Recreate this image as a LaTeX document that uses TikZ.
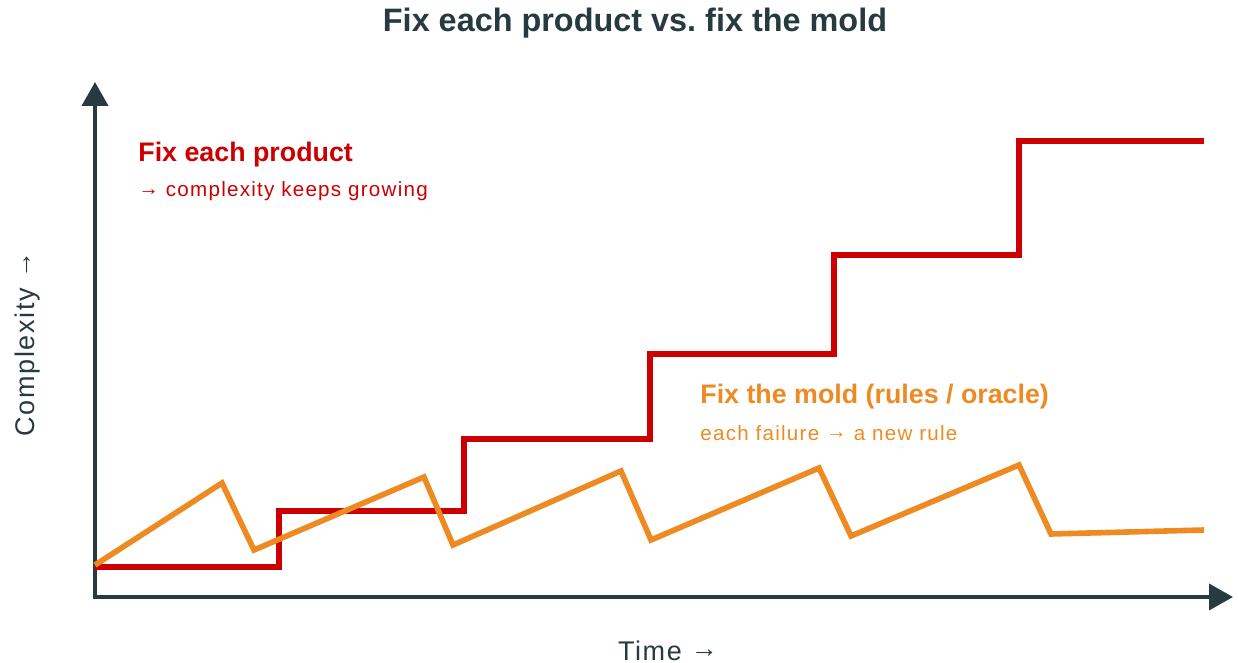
\documentclass[tikz,border=0pt]{standalone}
\usepackage{fontspec}
\setmainfont{Liberation Sans}
\usetikzlibrary{arrows.meta}
\frenchspacing
\definecolor{axisdark}{HTML}{263A40}
\definecolor{fixred}{HTML}{CC0000}
\definecolor{moldorange}{HTML}{EE8A22}
\newcommand{\rarr}{\raisebox{0.15ex}{→}}
\tikzset{
  axisline/.style={draw=axisdark, line width=2pt, -{Triangle[length=12pt,width=13pt]}},
  redline/.style={draw=fixred, line width=3pt, line join=miter},
  orangeline/.style={draw=moldorange, line width=2.8pt, line join=miter},
  headlabel/.style={font=\bfseries\fontsize{13.4pt}{16pt}\selectfont, anchor=base west, inner sep=0pt},
  sublabel/.style={font=\addfontfeatures{LetterSpace=6}\fontsize{10.3pt}{12pt}\selectfont, anchor=base west, inner sep=0pt},
  axislabel/.style={font=\addfontfeatures{LetterSpace=6}\fontsize{13.5pt}{16pt}\selectfont, text=axisdark, inner sep=0pt}
}
\begin{document}
\begin{tikzpicture}[x=0.5pt, y=-0.5pt]
\useasboundingbox (0,0) rectangle (1238,663);

% title
\node[font=\bfseries\fontsize{16.2pt}{19pt}\selectfont, text=axisdark, anchor=base, inner sep=0pt] (title) at (635,32) {Fix each product vs. fix the mold};

% axes
\coordinate (origin) at (95,597);
\coordinate (ytip) at (95,82);
\coordinate (xtip) at (1233,597);
\draw[axisline] ([yshift=-1pt]origin) -- (ytip);
\draw[axisline] ([xshift=-1pt]origin) -- (xtip);

% axis labels
\node[axislabel, rotate=90, anchor=base] (ylabel) at (34,344) {Complexity \rarr};
\node[axislabel, anchor=base] (xlabel) at (668,660) {Time \rarr};

% fix each product: step growth
\draw[redline] (95,567) -- (279,567) -- (279,511) -- (464,511) -- (464,439)
  -- (650,439) -- (650,354) -- (834,354) -- (834,255) -- (1019,255)
  -- (1019,141) -- (1204,141);

% fix the mold: saw-tooth that stays low
\draw[orangeline] (95,565) -- (222,483) -- (254,550) -- (424,477) -- (453,545)
  -- (621,471) -- (651,540) -- (819,468) -- (851,536) -- (1019,465)
  -- (1051,534) -- (1204,530);

% series labels
\node[headlabel, text=fixred] (redhead) at (138,162) {Fix each product};
\node[sublabel, text=fixred] (redsub) at (138,197) {\rarr\ complexity keeps growing};
\node[headlabel, text=moldorange] (orangehead) at (700,404) {Fix the mold (rules / oracle)};
\node[sublabel, text=moldorange] (orangesub) at (700,440) {each failure \rarr\ a new rule};
\end{tikzpicture}
\end{document}
